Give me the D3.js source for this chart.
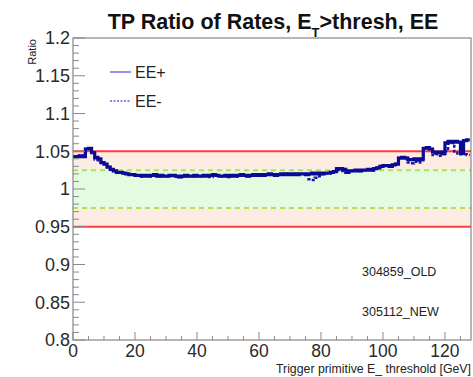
<!DOCTYPE html>
<html>
<head>
<meta charset="utf-8">
<script src="https://cdn.jsdelivr.net/npm/d3@7"></script>
<style>
  html, body { margin: 0; padding: 0; background: #fff; }
  svg { display: block; font-family: "Liberation Sans", Arial, Helvetica, sans-serif; }
</style>
</head>
<body>
<svg id="chart" width="473" height="377"></svg>
<script>
// ---- data ----
const binEdgesStart = 0;     // first bin lower edge (GeV)
const binWidth = 1;          // GeV
const eePlus = [
  1.043, 1.043, 1.044, 1.043, 1.053, 1.054, 1.048, 1.042, 1.040, 1.035,
  1.033, 1.029, 1.026, 1.024, 1.022, 1.022, 1.021, 1.020, 1.019, 1.019,
  1.018, 1.018, 1.017, 1.018, 1.017, 1.018, 1.019, 1.017, 1.018, 1.017,
  1.017, 1.018, 1.018, 1.017, 1.016, 1.017, 1.018, 1.017, 1.017, 1.018,
  1.017, 1.017, 1.018, 1.017, 1.018, 1.019, 1.018, 1.017, 1.017, 1.018,
  1.017, 1.018, 1.017, 1.018, 1.019, 1.018, 1.017, 1.018, 1.019, 1.018,
  1.019, 1.018, 1.019, 1.020, 1.019, 1.018, 1.019, 1.020, 1.019, 1.020,
  1.019, 1.020, 1.019, 1.020, 1.020, 1.019, 1.020, 1.021, 1.020, 1.021,
  1.020, 1.021, 1.021, 1.022, 1.023, 1.027, 1.027, 1.026, 1.022, 1.024,
  1.024, 1.025, 1.024, 1.025, 1.025, 1.026, 1.025, 1.027, 1.028, 1.030,
  1.031, 1.031, 1.030, 1.032, 1.033, 1.041, 1.042, 1.041, 1.039, 1.039,
  1.040, 1.039, 1.040, 1.054, 1.055, 1.053, 1.049, 1.048, 1.049, 1.047,
  1.061, 1.063, 1.062, 1.063, 1.062, 1.047, 1.064, 1.065
];
const eeMinus = [
  1.043, 1.043, 1.044, 1.043, 1.053, 1.054, 1.048, 1.039, 1.038, 1.035,
  1.033, 1.029, 1.026, 1.024, 1.022, 1.022, 1.021, 1.020, 1.019, 1.019,
  1.018, 1.018, 1.017, 1.018, 1.017, 1.018, 1.018, 1.017, 1.018, 1.017,
  1.017, 1.018, 1.017, 1.017, 1.016, 1.017, 1.018, 1.017, 1.017, 1.018,
  1.017, 1.017, 1.018, 1.017, 1.016, 1.018, 1.018, 1.017, 1.017, 1.018,
  1.016, 1.018, 1.017, 1.018, 1.018, 1.018, 1.017, 1.018, 1.019, 1.018,
  1.019, 1.018, 1.019, 1.019, 1.019, 1.018, 1.019, 1.020, 1.019, 1.020,
  1.019, 1.020, 1.019, 1.020, 1.020, 1.019, 1.013, 1.012, 1.015, 1.017,
  1.020, 1.021, 1.021, 1.022, 1.023, 1.025, 1.024, 1.026, 1.022, 1.024,
  1.024, 1.025, 1.024, 1.025, 1.025, 1.026, 1.025, 1.027, 1.028, 1.030,
  1.031, 1.031, 1.030, 1.032, 1.033, 1.041, 1.042, 1.041, 1.035, 1.034,
  1.036, 1.035, 1.038, 1.054, 1.055, 1.053, 1.045, 1.046, 1.044, 1.046,
  1.050, 1.060, 1.061, 1.048, 1.047, 1.046, 1.046, 1.045
];
const seriesNames = ["EE+", "EE-"];
const yTicks = [0.8, 0.85, 0.9, 0.95, 1, 1.05, 1.1, 1.15, 1.2];
const yTickLabels = ["0.8", "0.85", "0.9", "0.95", "1", "1.05", "1.1", "1.15", "1.2"];
const xTicks = [0, 20, 40, 60, 80, 100, 120];
const xTickLabels = ["0", "20", "40", "60", "80", "100", "120"];
const xDomain = [0, 128.4];
const yDomain = [0.8, 1.2];
const outerBand = [0.95, 1.05];
const innerBand = [0.975, 1.025];
const runLabels = ["304859_OLD", "305112_NEW"];

// ---- layout ----
const svg = d3.select("#chart");
const L = 73, R = 471, T = 38, B = 340;
const x = d3.scaleLinear().domain(xDomain).range([L, R]);
const y = d3.scaleLinear().domain(yDomain).range([B, T]);

// bands
svg.append("rect").attr("x", L).attr("width", R - L)
  .attr("y", y(outerBand[1])).attr("height", y(outerBand[0]) - y(outerBand[1]))
  .attr("fill", "#fdece1");
svg.append("rect").attr("x", L).attr("width", R - L)
  .attr("y", y(innerBand[1])).attr("height", y(innerBand[0]) - y(innerBand[1]))
  .attr("fill", "#e3fbe1");

// red limit lines
outerBand.forEach(v => {
  svg.append("line").attr("x1", L).attr("x2", R).attr("y1", y(v)).attr("y2", y(v))
    .attr("stroke", "#ff3b3b").attr("stroke-width", 2);
});
// green dashed lines
innerBand.forEach(v => {
  svg.append("line").attr("x1", L).attr("x2", R).attr("y1", y(v)).attr("y2", y(v))
    .attr("stroke", "#a6e65a").attr("stroke-width", 2).attr("stroke-dasharray", "5,4");
});

// step histograms
function stepPoints(vals) {
  const pts = vals.map((v, i) => [binEdgesStart + i * binWidth, v]);
  pts.push([binEdgesStart + vals.length * binWidth, vals[vals.length - 1]]);
  return pts;
}
const line = d3.line().x(d => x(Math.min(d[0], xDomain[1]))).y(d => y(d[1])).curve(d3.curveStepAfter);

svg.append("path").attr("d", line(stepPoints(eeMinus)))
  .attr("fill", "none").attr("stroke", "#1a1aa0").attr("stroke-width", 2.5)
  .attr("stroke-dasharray", "3,2");
svg.append("path").attr("d", line(stepPoints(eePlus)))
  .attr("fill", "none").attr("stroke", "#0a0a96").attr("stroke-width", 3.2);

// frame
svg.append("rect").attr("x", L).attr("y", T).attr("width", R - L).attr("height", B - T)
  .attr("fill", "none").attr("stroke", "#6e6e6e").attr("stroke-width", 1);

// y ticks (inward)
const yMinor = d3.range(0.8, 1.2001, 0.01);
yMinor.forEach(v => {
  const major = Math.abs(Math.round(v / 0.05) * 0.05 - v) < 1e-6;
  svg.append("line").attr("x1", L).attr("x2", L + (major ? 12 : 6))
    .attr("y1", y(v)).attr("y2", y(v)).attr("stroke", "#8a8a8a").attr("stroke-width", 1);
});
yTicks.forEach((v, i) => {
  svg.append("text").attr("x", L - 3).attr("y", y(v)).attr("dy", "0.36em")
    .attr("text-anchor", "end").attr("font-size", 18).attr("fill", "#2a2a2a")
    .text(yTickLabels[i]);
});
// x ticks (inward)
d3.range(0, 128.01, 5).forEach(v => {
  const major = v % 20 === 0;
  svg.append("line").attr("x1", x(v)).attr("x2", x(v)).attr("y1", B).attr("y2", B - (major ? 8 : 4))
    .attr("stroke", "#8a8a8a").attr("stroke-width", 1);
});
xTicks.forEach((v, i) => {
  svg.append("text").attr("x", x(v)).attr("y", 357)
    .attr("text-anchor", "middle").attr("font-size", 17.5).attr("fill", "#2a2a2a")
    .text(xTickLabels[i]);
});

// axis titles
svg.append("text").attr("transform", "translate(36," + (T + 1) + ") rotate(-90)")
  .attr("text-anchor", "end").attr("font-size", 11).attr("fill", "#222").text("Ratio");
svg.append("text").attr("x", 471).attr("y", 373).attr("text-anchor", "end")
  .attr("font-size", 12.3).attr("fill", "#222").text("Trigger primitive E_ threshold [GeV]");

// title
const title = svg.append("text").attr("x", 273).attr("y", 29).attr("text-anchor", "middle")
  .attr("font-size", 21.5).attr("font-weight", "bold").attr("fill", "#111");
title.append("tspan").text("TP Ratio of Rates, E");
title.append("tspan").attr("font-size", 13).attr("dy", 8).text("T");
title.append("tspan").attr("dy", -8).text(">thresh, EE");

// legend
const legendY = [72, 101];
seriesNames.forEach((n, i) => {
  svg.append("line").attr("x1", 110).attr("x2", 131).attr("y1", legendY[i]).attr("y2", legendY[i])
    .attr("stroke", "#5a5ae0").attr("stroke-width", 1.3)
    .attr("stroke-dasharray", i === 1 ? "2,1.5" : null);
  svg.append("text").attr("x", 135).attr("y", legendY[i]).attr("dy", "0.36em")
    .attr("font-size", 16).attr("fill", "#222").text(n);
});

// run labels
svg.append("text").attr("x", 362).attr("y", 276).attr("font-size", 12.5).attr("fill", "#222").text(runLabels[0]);
svg.append("text").attr("x", 362).attr("y", 316).attr("font-size", 12.5).attr("fill", "#222").text(runLabels[1]);
</script>
</body>
</html>
